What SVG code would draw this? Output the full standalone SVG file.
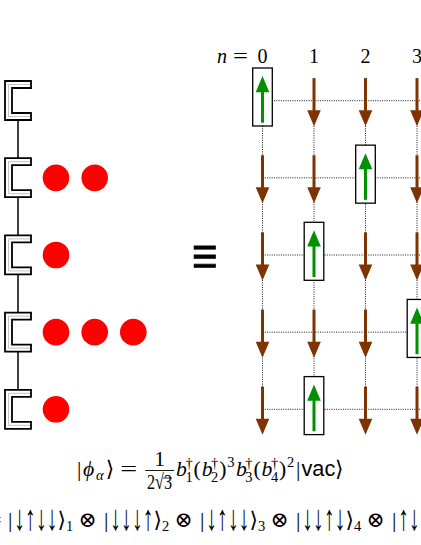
<svg xmlns="http://www.w3.org/2000/svg" xmlns:xlink="http://www.w3.org/1999/xlink" width="421" height="545" viewBox="0 0 421 545">
<style>
.m{font-family:"Liberation Serif","DejaVu Serif",serif;font-size:21.7px;fill:#000}
.i{font-style:italic}
.s{font-size:14.5px}
.sf{font-family:"Liberation Sans","DejaVu Sans",sans-serif}
.arr{font-family:"Liberation Serif","DejaVu Serif",serif;font-size:36px;fill:#000}
.lab{font-family:"Liberation Serif","DejaVu Serif",serif;font-size:20px;fill:#000}
.dot{stroke:#000;stroke-width:0.9;stroke-dasharray:1 1.3;fill:none}
.br{fill:#fff;stroke:#000;stroke-width:1.8;stroke-linejoin:miter}
.brin{fill:none;stroke:#c4c4c4;stroke-width:1}
.link{stroke:#000;stroke-width:1.5}
.boson{fill:#ff0000}
.box{fill:#fff;stroke:#000;stroke-width:1.3}
</style>
<defs>
<g id="down">
<line x1="0" y1="-22.6" x2="0" y2="10" stroke="#7f3300" stroke-width="3"/>
<polygon points="-6.8,9.5 6.8,9.5 0,25.5" fill="#7f3300"/>
</g>
<g id="up">
<rect class="box" x="-9.8" y="-32.7" width="19.6" height="58"/>
<line x1="0" y1="22" x2="0" y2="-9" stroke="#009000" stroke-width="3"/>
<polygon points="-6.8,-8.5 6.8,-8.5 0,-24.7" fill="#009000"/>
</g>
<g id="bracket">
<path class="br" d="M5,0 H31 V7 H12 V32 H31 V39 H5 Z"/>
<path class="brin" d="M30,3.5 H8.5 V35.5 H30"/>
</g>
</defs>

<!-- connectors -->
<g id="connectors">
<line class="link" x1="18" y1="120" x2="18" y2="158.2"/>
<line class="link" x1="18" y1="197.2" x2="18" y2="235.4"/>
<line class="link" x1="18" y1="274.4" x2="18" y2="312.6"/>
<line class="link" x1="18" y1="351.6" x2="18" y2="389.8"/>
<line class="dot" x1="262.5" y1="100.7" x2="421" y2="100.7"/>
<line class="dot" x1="262.5" y1="177.85" x2="421" y2="177.85"/>
<line class="dot" x1="262.5" y1="255" x2="421" y2="255"/>
<line class="dot" x1="262.5" y1="332.15" x2="421" y2="332.15"/>
<line class="dot" x1="262.5" y1="409.3" x2="421" y2="409.3"/>
<line class="dot" x1="262.5" y1="100.7" x2="262.5" y2="409.3"/>
<line class="dot" x1="314" y1="100.7" x2="314" y2="409.3"/>
<line class="dot" x1="365.5" y1="100.7" x2="365.5" y2="409.3"/>
<line class="dot" x1="417" y1="100.7" x2="417" y2="409.3"/>
</g>

<!-- ladder sites -->
<g id="site1"><use xlink:href="#bracket" y="81"/></g>
<g id="site2"><use xlink:href="#bracket" y="158.2"/>
<circle class="boson" cx="56" cy="177.85" r="13.3"/><circle class="boson" cx="94.7" cy="177.85" r="13.3"/></g>
<g id="site3"><use xlink:href="#bracket" y="235.4"/>
<circle class="boson" cx="56" cy="255" r="13.3"/></g>
<g id="site4"><use xlink:href="#bracket" y="312.6"/>
<circle class="boson" cx="56" cy="332.15" r="13.3"/><circle class="boson" cx="94.7" cy="332.15" r="13.3"/><circle class="boson" cx="133.3" cy="332.15" r="13.3"/></g>
<g id="site5"><use xlink:href="#bracket" y="389.8"/>
<circle class="boson" cx="56" cy="409.3" r="13.3"/></g>

<g id="equiv"><text x="191.7" y="278" font-family="Liberation Serif, serif" font-size="64" stroke="#000" stroke-width="0.9" textLength="26" lengthAdjust="spacingAndGlyphs">≡</text></g>

<!-- column labels -->
<g id="labels">
<text class="lab i" x="217" y="63">n</text>
<text class="lab" x="233" y="63" textLength="15" lengthAdjust="spacingAndGlyphs">=</text>
<text class="lab" x="262.5" y="63" text-anchor="middle">0</text>
<text class="lab" x="314" y="63" text-anchor="middle">1</text>
<text class="lab" x="365.5" y="63" text-anchor="middle">2</text>
<text class="lab" x="417" y="63" text-anchor="middle">3</text>
</g>

<!-- spin grid -->
<g id="row0">
<use xlink:href="#up" x="262.5" y="100.7"/><use xlink:href="#down" x="314" y="100.7"/><use xlink:href="#down" x="365.5" y="100.7"/><use xlink:href="#down" x="417" y="100.7"/>
</g>
<g id="row1">
<use xlink:href="#down" x="262.5" y="177.85"/><use xlink:href="#down" x="314" y="177.85"/><use xlink:href="#up" x="365.5" y="177.85"/><use xlink:href="#down" x="417" y="177.85"/>
</g>
<g id="row2">
<use xlink:href="#down" x="262.5" y="255"/><use xlink:href="#up" x="314" y="255"/><use xlink:href="#down" x="365.5" y="255"/><use xlink:href="#down" x="417" y="255"/>
</g>
<g id="row3">
<use xlink:href="#down" x="262.5" y="332.15"/><use xlink:href="#down" x="314" y="332.15"/><use xlink:href="#down" x="365.5" y="332.15"/><use xlink:href="#up" x="417" y="332.15"/>
</g>
<g id="row4">
<use xlink:href="#down" x="262.5" y="409.3"/><use xlink:href="#up" x="314" y="409.3"/><use xlink:href="#down" x="365.5" y="409.3"/><use xlink:href="#down" x="417" y="409.3"/>
</g>

<!-- formula 1 -->
<g id="formula1">
<text class="m" x="77" y="476">|</text>
<text class="m i" x="83" y="476">ϕ</text>
<text class="m i s" x="96" y="480">α</text>
<text class="m" x="105.7" y="476">⟩</text>
<text class="m" x="120.2" y="476" textLength="16.9" lengthAdjust="spacingAndGlyphs">=</text>
<text class="m" x="159.6" y="466" text-anchor="middle" font-size="15.5">1</text>
<line x1="145.2" y1="470.5" x2="174" y2="470.5" stroke="#000" stroke-width="0.9"/>
<text class="m" x="147" y="489" font-size="14.5" textLength="25" lengthAdjust="spacingAndGlyphs">2√3</text>
<line x1="163" y1="478" x2="172" y2="478" stroke="#000" stroke-width="0.8"/>
<text class="m i" x="176.1" y="476">b</text>
<text class="m s" x="185.4" y="468">†</text><text class="m s" x="185.4" y="482">1</text>
<text class="m" x="193.6" y="476">(</text>
<text class="m i" x="201.7" y="476">b</text>
<text class="m s" x="211" y="468">†</text><text class="m s" x="211" y="482">2</text>
<text class="m" x="219.2" y="476">)</text>
<text class="m s" x="227.3" y="467">3</text>
<text class="m i" x="236" y="476">b</text>
<text class="m s" x="245.3" y="468">†</text><text class="m s" x="245.3" y="482">3</text>
<text class="m" x="253.5" y="476">(</text>
<text class="m i" x="261.6" y="476">b</text>
<text class="m s" x="270.9" y="468">†</text><text class="m s" x="270.9" y="482">4</text>
<text class="m" x="279.1" y="476">)</text>
<text class="m s" x="287.1" y="467">2</text>
<text class="m" x="295.9" y="476">|</text>
<text class="m sf" x="301.5" y="476">vac</text>
<text class="m" x="335" y="476">⟩</text>
</g>

<!-- formula 2 -->
<g id="formula2">
<text class="m" x="-15" y="526.5" textLength="16.9" lengthAdjust="spacingAndGlyphs">=</text>
<text class="m" x="8" y="526.5">|</text><text class="m" x="57.6" y="526.5">⟩</text><text class="m s" x="66" y="531">1</text>
<text class="m" x="78.5" y="526.5">⊗</text>
<text class="m" x="104" y="526.5">|</text><text class="m" x="153.6" y="526.5">⟩</text><text class="m s" x="162" y="531">2</text>
<text class="m" x="174.5" y="526.5">⊗</text>
<text class="m" x="200" y="526.5">|</text><text class="m" x="249.6" y="526.5">⟩</text><text class="m s" x="258" y="531">3</text>
<text class="m" x="270.5" y="526.5">⊗</text>
<text class="m" x="296" y="526.5">|</text><text class="m" x="345.6" y="526.5">⟩</text><text class="m s" x="354" y="531">4</text>
<text class="m" x="366.5" y="526.5">⊗</text>
<text class="m" x="392" y="526.5">|</text><text class="m" x="441.6" y="526.5">⟩</text><text class="m s" x="450" y="531">5</text>
<text class="arr" transform="translate(0 530) scale(0.6 1)" y="0" x="23.67 41.75 59.83 77.92 183.67 201.75 219.83 237.92 343.67 361.75 379.83 397.92 503.67 521.75 539.83 557.92 663.67 681.75 699.83 717.92">↓↑↓↓↓↓↓↑↓↑↓↓↓↓↑↓↑↓↓↓</text>
</g>
</svg>
